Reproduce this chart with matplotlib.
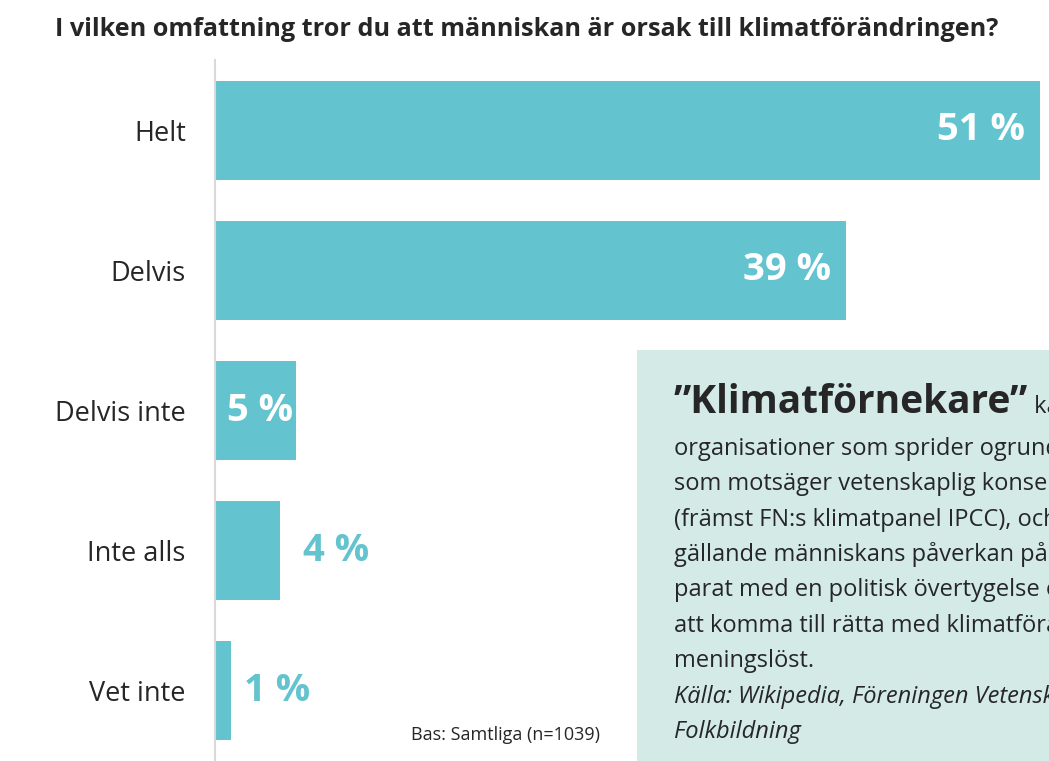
import matplotlib
matplotlib.use("Agg")
import matplotlib.pyplot as plt

# ---- data ----
categories = ["Helt", "Delvis", "Delvis inte", "Inte alls", "Vet inte"]
values = [51, 39, 5, 4, 1]
value_labels = ["51 %", "39 %", "5 %", "4 %", "1 %"]
title = "I vilken omfattning tror du att människan är orsak till klimatförändringen?"
base_note = "Bas: Samtliga (n=1039)"
box_header = "\u201dKlimatförnekare\u201d"
box_header_rest = " kallas personer och"
box_lines = [
    "organisationer som sprider ogrundade påståenden",
    "som motsäger vetenskaplig konsensus",
    "(främst FN:s klimatpanel IPCC), och som tvivlar",
    "gällande människans påverkan på klimatet, ofta",
    "parat med en politisk övertygelse om att åtgärder",
    "att komma till rätta med klimatförändringen är",
    "meningslöst.",
]
box_source = ["Källa: Wikipedia, Föreningen Vetenskap och", "Folkbildning"]

# ---- style ----
BAR = "#63C4D0"
BOX = "#D3EAE7"
TXT = "#262626"
FONT = ["Open Sans", "DejaVu Sans"]
plt.rcParams["font.family"] = FONT

W, H = 1049, 761
fig = plt.figure(figsize=(W / 100, H / 100), dpi=100)
fig.patch.set_facecolor("white")

def fx(px):
    return px / W

def fy(py):
    return 1 - py / H

ax = fig.add_axes([fx(215), 0, fx(834), 701 / H])
ax.barh(range(len(values)), values, height=0.705, color=BAR, zorder=2)
ax.set_xlim(0, 834 / 16.18)
ax.set_ylim(len(values) - 0.5, -0.5)
ax.set_yticks(range(len(values)))
ax.set_yticklabels(categories, fontsize=19.5, color=TXT)
ax.tick_params(axis="y", length=0, pad=21)
ax.set_xticks([])
for s in ["top", "right", "bottom"]:
    ax.spines[s].set_visible(False)
ax.spines["left"].set_color("#D9D9D9")
ax.spines["left"].set_linewidth(1.5)
ax.set_facecolor("none")

outside_offsets = {3: 16.5, 4: 9.5}
for i, (v, lab) in enumerate(zip(values, value_labels)):
    if v >= 5:
        off = -11 if v > 10 else -2
        ax.annotate(lab, xy=(v, i), xytext=(off, 0), textcoords="offset points",
                    ha="right", va="center", color="white", fontsize=27.5,
                    fontweight="bold", zorder=3)
    else:
        ax.annotate(lab, xy=(v, i), xytext=(outside_offsets.get(i, 12), 0),
                    textcoords="offset points", ha="left", va="center",
                    color=BAR, fontsize=27.5, fontweight="bold", zorder=3)

fig.text(fx(55), fy(36), title, ha="left", va="baseline", fontsize=18.2,
         fontweight="bold", color=TXT)
fig.text(fx(600), fy(740), base_note, ha="right", va="baseline", fontsize=13,
         color=TXT)

# ---- info box ----
bax = fig.add_axes([fx(637), 0, fx(W - 637), (H - 350) / H])
bax.set_facecolor(BOX)
bax.set_xticks([]); bax.set_yticks([])
for s in bax.spines.values():
    s.set_visible(False)
bax.set_xlim(0, 1); bax.set_ylim(0, 1)

def bpos(px, py):
    return ((px - 637) / (W - 637), (H - py) / (H - 350))

hx, hy = bpos(674, 413)
t1 = bax.text(hx, hy, box_header, ha="left", va="baseline", fontsize=28,
              fontweight="bold", color=TXT, clip_on=True)
fig.canvas.draw()
ext = t1.get_window_extent()
x_end = ext.x1  # pixels
bax.text((x_end - 637) / (W - 637), hy, box_header_rest, ha="left",
         va="baseline", fontsize=17, color=TXT, clip_on=True)

baselines = [455, 490.5, 526, 561, 596.5, 632, 667]
for line, b in zip(box_lines, baselines):
    x, y = bpos(674, b)
    bax.text(x, y, line, ha="left", va="baseline", fontsize=17, color=TXT,
             clip_on=True)
for line, b in zip(box_source, [703, 738.5]):
    x, y = bpos(674, b)
    bax.text(x, y, line, ha="left", va="baseline", fontsize=17, color=TXT,
             style="italic", clip_on=True)

fig.savefig("out.png", dpi=100, facecolor="white")
